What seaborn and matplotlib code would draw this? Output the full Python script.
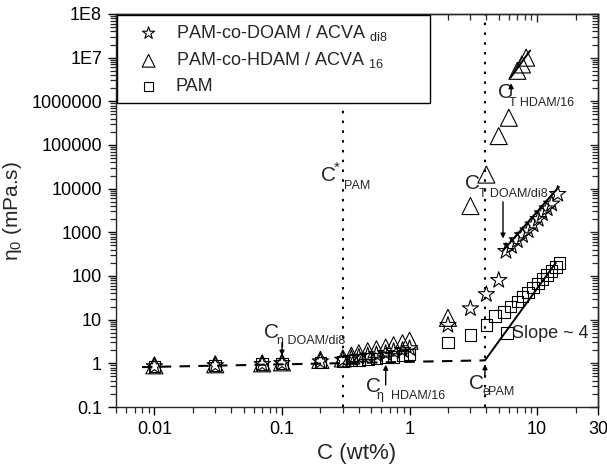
import numpy as np
import pandas as pd
import matplotlib
matplotlib.use("Agg")
import matplotlib.pyplot as plt
import seaborn as sns
from matplotlib.ticker import FixedLocator, FixedFormatter, LogLocator, NullFormatter

# ---------------- data ----------------
doam_c = [0.01, 0.03, 0.07, 0.1, 0.2, 0.3, 0.35, 0.4, 0.47, 0.55, 0.65, 0.75, 0.88, 1.0,
          2, 3, 4, 5, 5.7, 6.3, 7, 7.7, 8.5, 9.3, 10.2, 11, 12, 13, 14.5]
doam_eta = [0.85, 0.9, 0.95, 1.0, 1.1, 1.2, 1.3, 1.4, 1.5, 1.6, 1.7, 1.9, 2.0, 2.2,
            7.5, 18, 38, 80, 370, 480, 650, 850, 1100, 1500, 2000, 2700, 3500, 4500, 7500]

hdam_c = [0.01, 0.03, 0.07, 0.1, 0.2, 0.3, 0.35, 0.4, 0.47, 0.55, 0.65, 0.75, 0.88, 1.0,
          2, 3, 4, 5, 6, 7, 7.6, 8.2]
hdam_eta = [0.9, 0.95, 1.0, 1.05, 1.2, 1.3, 1.5, 1.7, 1.9, 2.1, 2.3, 2.6, 2.9, 3.3,
            11, 4000, 21000, 160000, 420000, 5e6, 7e6, 1e7]

pam_c = [0.01, 0.03, 0.07, 0.1, 0.2, 0.3, 0.35, 0.4, 0.47, 0.55, 0.65, 0.75, 0.88, 1.0,
         2, 3, 4, 4.7, 5.5, 5.8, 6.2, 7, 7.7, 8.5, 9.3, 10.2, 11, 12, 13, 14, 15]
pam_eta = [0.85, 0.9, 0.95, 1.0, 1.05, 1.1, 1.15, 1.2, 1.25, 1.3, 1.35, 1.4, 1.5, 1.6,
           3.0, 4.4, 7.5, 12, 15, 4.9, 20, 26, 34, 42, 55, 68, 85, 105, 130, 160, 200]

# guide lines
plateau_c = [0.008, 3.9]
plateau_eta = [0.82, 1.17]
slope_pam_c = [3.9, 14.0]
slope_pam_eta = [1.17, 200]
slope_doam_c = [5.4, 14.8]
slope_doam_eta = [380, 11000]
slope_hdam_c = [6.2, 8.8]
slope_hdam_eta = [3.5e6, 1.45e7]
cstar_pam = 0.3
ce_pam = 3.9

series_labels = ["PAM-co-DOAM / ACVA $_{di8}$", "PAM-co-HDAM / ACVA $_{16}$", "PAM"]

ytick_vals = [0.1, 1, 10, 100, 1000, 10000, 100000, 1000000, 1e7, 1e8]
ytick_labels = ["0.1", "1", "10", "100", "1000", "10000", "100000", "1000000", "1E7", "1E8"]
xtick_vals = [0.01, 0.1, 1, 10, 30]
xtick_labels = ["0.01", "0.1", "1", "10", "30"]

# ---------------- style ----------------
sns.set_theme(style="ticks")
plt.rcParams["font.family"] = ["Liberation Sans", "DejaVu Sans"]
plt.rcParams["mathtext.fontset"] = "custom"
plt.rcParams["mathtext.rm"] = "Liberation Sans"
plt.rcParams["mathtext.it"] = "Liberation Sans:italic"
plt.rcParams["mathtext.default"] = "regular"
plt.rcParams["axes.linewidth"] = 1.0

fig = plt.figure(figsize=(6.07, 4.70), dpi=100)
ax = fig.add_axes([116 / 607, 1 - 407 / 470, (598 - 116) / 607, (407 - 14) / 470])
ax.set_xscale("log")
ax.set_yscale("log")

# guide lines
for xv in (cstar_pam, ce_pam):
    ax.axvline(xv, color="black", linestyle=(0, (1.2, 3.5)), linewidth=1.5, zorder=1)
ax.plot(plateau_c, plateau_eta, color="black", linestyle=(0, (5, 4)), linewidth=1.5,
        zorder=1)
for cx, cy in [(slope_pam_c, slope_pam_eta), (slope_doam_c, slope_doam_eta),
               (slope_hdam_c, slope_hdam_eta)]:
    sns.lineplot(x=cx, y=cy, ax=ax, color="black", linewidth=1.4, zorder=3)

# data markers
sns.scatterplot(x=doam_c, y=doam_eta, ax=ax, marker="*", s=150, facecolor="none",
                edgecolor="black", linewidth=0.8, label=series_labels[0], zorder=4)
sns.scatterplot(x=hdam_c, y=hdam_eta, ax=ax, marker="^", s=150, facecolor="none",
                edgecolor="black", linewidth=0.8, label=series_labels[1], zorder=4)
sns.scatterplot(x=pam_c, y=pam_eta, ax=ax, marker="s", s=70, facecolor="none",
                edgecolor="black", linewidth=0.8, label=series_labels[2], zorder=4)

ax.set_xlim(0.005, 30)
ax.set_ylim(0.1, 1e8)

# ticks
ax.yaxis.set_major_locator(FixedLocator(ytick_vals))
ax.yaxis.set_major_formatter(FixedFormatter(ytick_labels))
ax.yaxis.set_minor_locator(LogLocator(base=10, subs=np.arange(2, 10)))
ax.yaxis.set_minor_formatter(NullFormatter())
ax.xaxis.set_major_locator(FixedLocator(xtick_vals))
ax.xaxis.set_major_formatter(FixedFormatter(xtick_labels))
ax.xaxis.set_minor_locator(LogLocator(base=10, subs=np.arange(2, 10)))
ax.xaxis.set_minor_formatter(NullFormatter())
ax.tick_params(which="major", direction="out", length=6, width=1.0, labelsize=13,
               colors="black", pad=4)
ax.tick_params(which="minor", direction="out", length=4, width=0.9)

secx = ax.secondary_xaxis("top")
secx.xaxis.set_major_locator(FixedLocator(xtick_vals))
secx.xaxis.set_minor_locator(LogLocator(base=10, subs=np.arange(2, 10)))
secx.xaxis.set_major_formatter(NullFormatter())
secx.xaxis.set_minor_formatter(NullFormatter())
secx.tick_params(which="major", direction="in", length=6, width=1.0)
secx.tick_params(which="minor", direction="in", length=4, width=0.9)
secy = ax.secondary_yaxis("right")
secy.yaxis.set_major_locator(FixedLocator(ytick_vals))
secy.yaxis.set_minor_locator(LogLocator(base=10, subs=np.arange(2, 10)))
secy.yaxis.set_major_formatter(NullFormatter())
secy.yaxis.set_minor_formatter(NullFormatter())
secy.tick_params(which="major", direction="in", length=6, width=1.0)
secy.tick_params(which="minor", direction="in", length=4, width=0.9)

ax.set_xlabel("C (wt%)", fontsize=16, labelpad=4)
ax.set_ylabel("η$_0$ (mPa.s)", fontsize=15)
ax.yaxis.set_label_coords(-0.19, 0.5)

# legend
leg = ax.legend(loc="upper left", bbox_to_anchor=(0.002, 0.3, 0.649, 0.698), mode="expand",
                fontsize=13, frameon=True, fancybox=False, edgecolor="black",
                framealpha=1, handlelength=2.6, handletextpad=0.2, labelspacing=0.42,
                borderpad=0.45, borderaxespad=0, markerscale=0.75)
leg.get_frame().set_linewidth(1.0)
leg.set_zorder(10)

# annotations
def label(cx, cy, sub, sx, sy, sup=None):
    ax.text(cx, cy, "C", fontsize=15, ha="center", va="center", zorder=6)
    ax.text(sx, sy, sub, fontsize=9, ha="left", va="center", zorder=6)
    if sup:
        ax.text(sup[0], sup[1], "*", fontsize=11, ha="center", va="center", zorder=6)

def arrow(x, y0, y1):
    ax.annotate("", xy=(x, y1), xytext=(x, y0),
                arrowprops=dict(arrowstyle="-|>", color="black", lw=1.0,
                                mutation_scale=7, shrinkA=0, shrinkB=0), zorder=6)

label(0.23, 2.0e4, "PAM", 0.305, 1.15e4, sup=(0.27, 3.0e4))
label(0.083, 5.0, "η DOAM/di8", 0.092, 3.3, None)
arrow(0.1, 3.0, 1.5)
label(0.52, 0.3, "η  HDAM/16", 0.56, 0.18, None)
arrow(0.65, 0.32, 0.93)
label(5.6, 1.6e6, "T HDAM/16", 6.0, 9.0e5, None)
arrow(6.25, 1.5e6, 2.6e6)
label(3.1, 1.3e4, "T DOAM/di8", 3.5, 7.5e3, None)
arrow(5.4, 5.0e3, 7.2e2)
label(3.35, 0.35, "e", 3.75, 0.22, None)
ax.text(4.15, 0.22, "PAM", fontsize=9, ha="left", va="center", zorder=6)
arrow(3.9, 0.5, 0.95)
ax.text(6.3, 4.9, "Slope ~ 4", fontsize=13, ha="left", va="center", zorder=6)

fig.savefig("out.png", dpi=100)
